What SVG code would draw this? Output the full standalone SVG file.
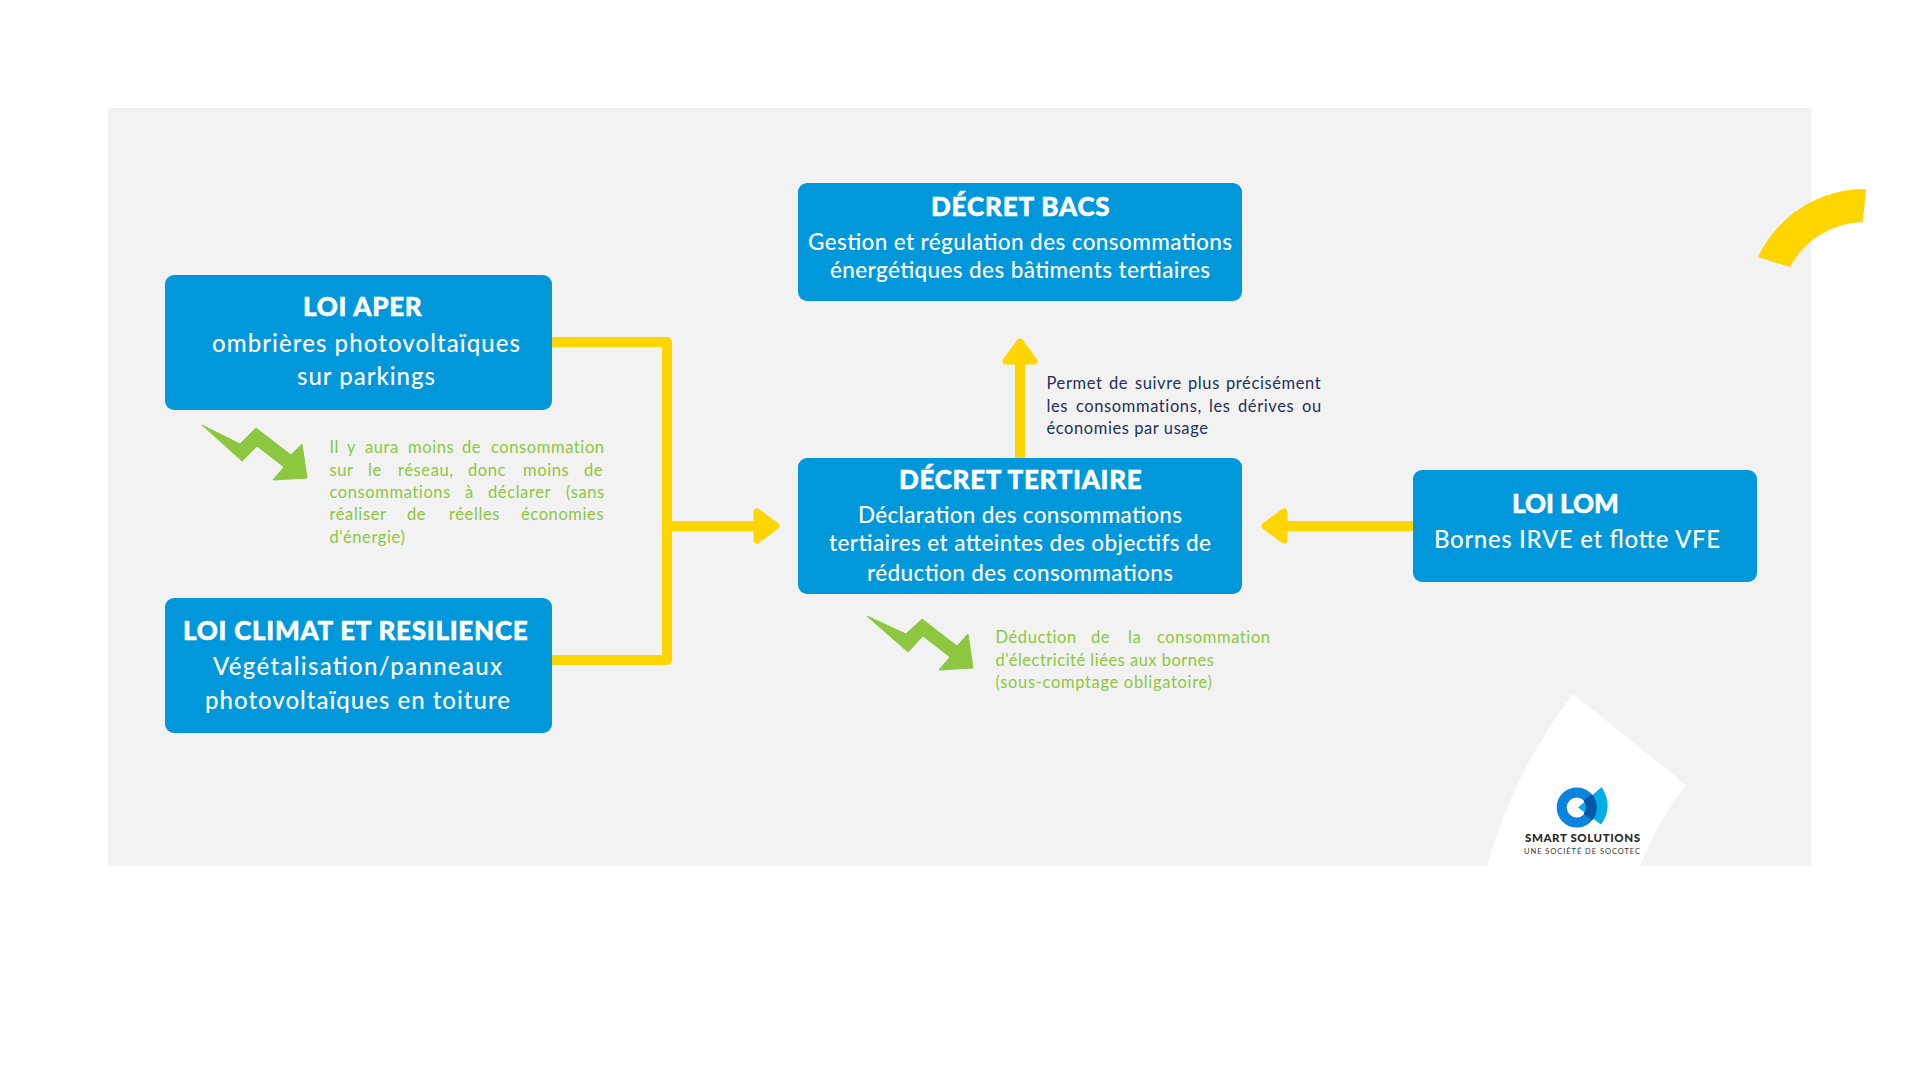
<svg xmlns="http://www.w3.org/2000/svg" width="1920" height="1080" viewBox="0 0 1920 1080">
<style>
text{font-family:"Lato","Open Sans","Liberation Sans",sans-serif}
.box{fill:#0098db}
.h{font-size:26px;font-weight:900;fill:#fff;stroke:#fff;stroke-width:.5px;letter-spacing:.3px}
.b{font-size:24px;font-weight:500;fill:#fff}
.b2{font-size:22.5px;font-weight:500;fill:#fff}
.g{font-size:16.5px;font-weight:400;fill:#8dc63f;letter-spacing:.6px}
.d{font-size:16.5px;font-weight:400;fill:#1f2f5c;letter-spacing:.6px}
.con{fill:none;stroke:#ffd500;stroke-width:10;stroke-linejoin:round}
.zig{fill:#8dc63f;stroke:#8dc63f;stroke-width:1;stroke-linejoin:round}
</style>
<defs>
<marker id="head" markerUnits="userSpaceOnUse" markerWidth="27" markerHeight="36" viewBox="0 0 27 36" refX="1" refY="18" orient="auto" overflow="visible">
<path d="M4 4 L23 18 L4 32 Z" fill="#ffd500" stroke="#ffd500" stroke-width="7" stroke-linejoin="round"/>
</marker>
</defs>
<rect width="1920" height="1080" fill="#fff"/>
<rect id="panel" x="108" y="108" width="1703.5" height="758" fill="#f2f2f2"/>
<path id="corner-arc" d="M1758 257 A118 118 0 0 1 1866 189 L1863 222 A85 85 0 0 0 1790 267 Z" fill="#ffd500"/>
<path id="logo-bg" d="M1487 866 Q1512 775 1573 694 L1686 785 Q1657 822 1640 866 Z" fill="#fff"/>

<g id="connectors">
<path class="con" d="M552 342 H667 V660 H552"/>
<path class="con" d="M667 526 H754" marker-end="url(#head)"/>
<path class="con" d="M1020 458 V364" marker-end="url(#head)"/>
<path class="con" d="M1413 526 H1287" marker-end="url(#head)"/>
</g>

<g id="loi-aper">
<rect class="box" x="165" y="275" width="387" height="135" rx="9"/>
<text class="h" x="303" y="316" textLength="119">LOI APER</text>
<text class="b" x="212" y="352" textLength="308">ombrières photovoltaïques</text>
<text class="b" x="297" y="385" textLength="138">sur parkings</text>
</g>
<g id="loi-climat">
<rect class="box" x="165" y="598" width="387" height="135" rx="9"/>
<text class="h" x="183" y="640" textLength="345">LOI CLIMAT ET RESILIENCE</text>
<text class="b" x="213" y="675" textLength="289">Végétalisation/panneaux</text>
<text class="b" x="205" y="709" textLength="305">photovoltaïques en toiture</text>
</g>
<g id="decret-bacs">
<rect class="box" x="798" y="183" width="444" height="118" rx="9"/>
<text class="h" x="931" y="216" textLength="179">DÉCRET BACS</text>
<text class="b2" x="808" y="249.5" textLength="424">Gestion et régulation des consommations</text>
<text class="b2" x="830" y="278" textLength="380">énergétiques des bâtiments tertiaires</text>
</g>
<g id="decret-tertiaire">
<rect class="box" x="798" y="458" width="444" height="136" rx="9"/>
<text class="h" x="899" y="489" textLength="243">DÉCRET TERTIAIRE</text>
<text class="b2" x="858" y="522.5" textLength="324">Déclaration des consommations</text>
<text class="b2" x="829" y="551" textLength="382">tertiaires et atteintes des objectifs de</text>
<text class="b2" x="867" y="580.5" textLength="306">réduction des consommations</text>
</g>
<g id="loi-lom">
<rect class="box" x="1413" y="470" width="344" height="112" rx="9"/>
<text class="h" x="1512" y="513" textLength="107">LOI LOM</text>
<text class="b" x="1434" y="548" textLength="286">Bornes IRVE et flotte VFE</text>
</g>

<g id="note-aper">
<polygon class="zig" points="202,425 240,444 256,428 291,455 302,444 307,478 273,480 284,467 257,446 242,461"/>
<text class="g" y="453"><tspan x="329.5">Il</tspan> <tspan x="347">y</tspan> <tspan x="365">aura</tspan> <tspan x="408">moins</tspan> <tspan x="462">de</tspan> <tspan x="491">consommation</tspan></text>
<text class="g" y="476"><tspan x="329.5">sur</tspan> <tspan x="368">le</tspan> <tspan x="398">réseau,</tspan> <tspan x="468">donc</tspan> <tspan x="523">moins</tspan> <tspan x="584">de</tspan></text>
<text class="g" y="498"><tspan x="329.5">consommations</tspan> <tspan x="465">à</tspan> <tspan x="488">déclarer</tspan> <tspan x="566">(sans</tspan></text>
<text class="g" y="520"><tspan x="329.5">réaliser</tspan> <tspan x="407">de</tspan> <tspan x="449">réelles</tspan> <tspan x="521">économies</tspan></text>
<text class="g" x="329.5" y="543">d'énergie)</text>
</g>
<g id="note-tertiaire">
<polygon class="zig" points="867,616 906,634 922,619 957,646 968,634 973,668 939,670 950,657 923,636 908,652"/>
<text class="g" y="643"><tspan x="995.5">Déduction</tspan> <tspan x="1091">de</tspan> <tspan x="1128">la</tspan> <tspan x="1157">consommation</tspan></text>
<text class="g" x="995.5" y="666" textLength="219">d'électricité liées aux bornes</text>
<text class="g" x="995.5" y="688" textLength="217">(sous-comptage obligatoire)</text>
</g>
<g id="note-bacs">
<text class="d" y="389"><tspan x="1046.5">Permet</tspan> <tspan x="1109">de</tspan> <tspan x="1135">suivre</tspan> <tspan x="1188">plus</tspan> <tspan x="1226">précisément</tspan></text>
<text class="d" y="412"><tspan x="1046.5">les</tspan> <tspan x="1076">consommations,</tspan> <tspan x="1209">les</tspan> <tspan x="1238">dérives</tspan> <tspan x="1302">ou</tspan></text>
<text class="d" x="1046.5" y="434" textLength="162">économies par usage</text>
</g>

<g id="logo">
<circle cx="1576.7" cy="807.5" r="15" fill="none" stroke="#0a84dc" stroke-width="10"/>
<path d="M1578 807.5 L1601.7 787 Q1614 807 1601 824.5 Z" fill="#00ade9"/>
<path d="M1591.7 794 A20 20 0 0 1 1592.5 820 L1583.5 814 A10 10 0 0 0 1583.5 801 Z" fill="#0058a6"/>
<text x="1525" y="842" textLength="115" font-size="11.5" font-weight="900" fill="#2a2a2a">SMART SOLUTIONS</text>
<text x="1524" y="853.5" textLength="116" font-size="7.5" font-weight="400" fill="#333">UNE SOCIÉTÉ DE SOCOTEC</text>
</g>
</svg>
